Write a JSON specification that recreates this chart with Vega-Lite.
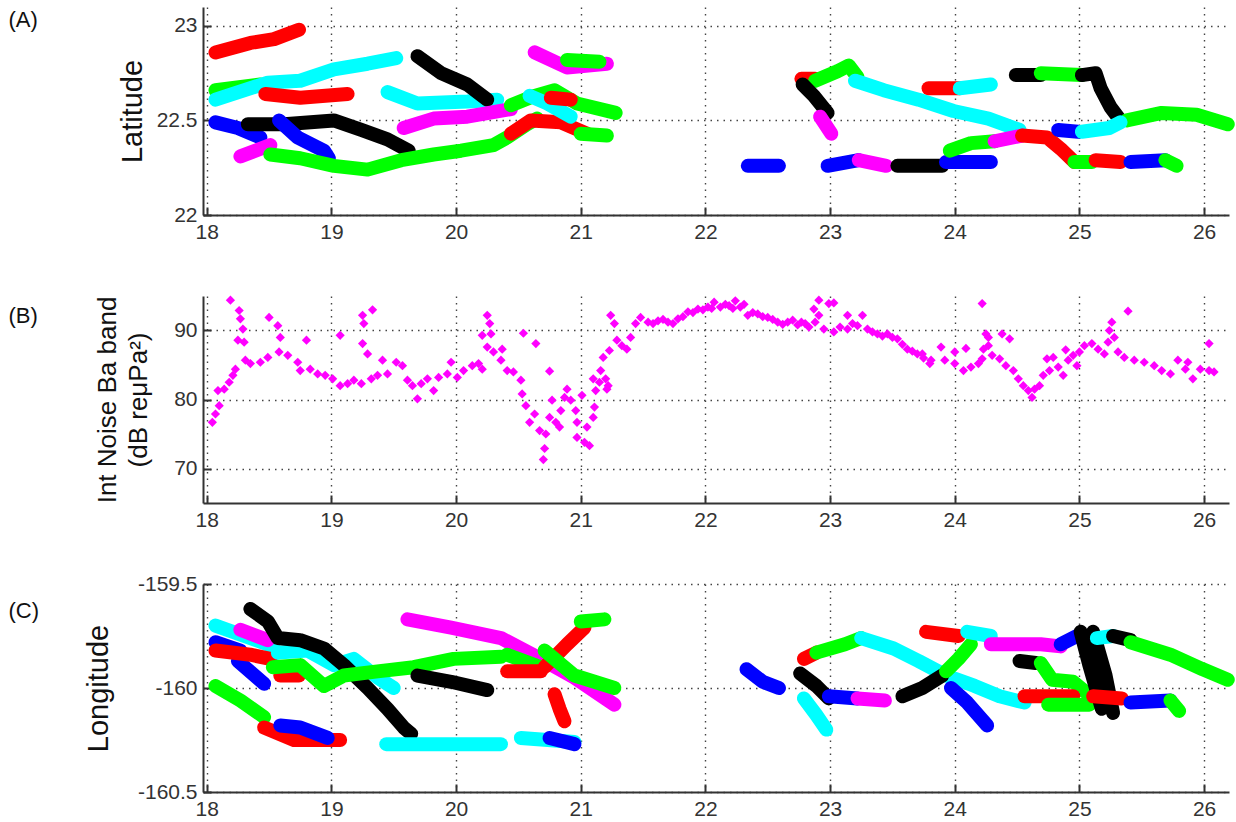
{
"$schema": "https://vega.github.io/schema/vega-lite/v6.json",
"background": "white",
"padding": {"left": 8, "top": 7, "right": 4, "bottom": 4},
"spacing": 81,
"bounds": "flush",
"config": {
  "view": {"stroke": null},
  "font": "Liberation Sans",
  "axis": {"domainColor": "#333", "domainWidth": 2, "tickColor": "#333", "tickWidth": 2, "tickSize": -8, "labelFont": "Liberation Sans", "labelFontSize": 21, "labelColor": "#333", "labelPadding": 14, "grid": true, "gridDash": [1.5, 5], "gridColor": "#444", "gridWidth": 1.4, "titleFont": "Liberation Sans", "titleFontWeight": "normal", "titleColor": "#111"}
},
"datasets": {
  "lat": [
    {"id":"A1","c":"r","t":18.07,"v":22.86},{"id":"A1","c":"r","t":18.35,"v":22.91},{"id":"A1","c":"r","t":18.54,"v":22.93},{"id":"A1","c":"r","t":18.74,"v":22.98},
    {"id":"A2","c":"g","t":18.07,"v":22.66},{"id":"A2","c":"g","t":18.43,"v":22.69},
    {"id":"A3","c":"c","t":18.07,"v":22.61},{"id":"A3","c":"c","t":18.49,"v":22.70},{"id":"A3","c":"c","t":18.75,"v":22.71},{"id":"A3","c":"c","t":19.02,"v":22.77},{"id":"A3","c":"c","t":19.29,"v":22.80},{"id":"A3","c":"c","t":19.52,"v":22.83},
    {"id":"A4","c":"r","t":18.47,"v":22.64},{"id":"A4","c":"r","t":18.75,"v":22.62},{"id":"A4","c":"r","t":19.13,"v":22.64},
    {"id":"A5","c":"b","t":18.07,"v":22.49},{"id":"A5","c":"b","t":18.25,"v":22.46},{"id":"A5","c":"b","t":18.43,"v":22.41},
    {"id":"A6","c":"k","t":18.33,"v":22.48},{"id":"A6","c":"k","t":18.62,"v":22.48},{"id":"A6","c":"k","t":19.02,"v":22.50},{"id":"A6","c":"k","t":19.24,"v":22.45},{"id":"A6","c":"k","t":19.45,"v":22.40},{"id":"A6","c":"k","t":19.62,"v":22.34},
    {"id":"A7","c":"b","t":18.58,"v":22.50},{"id":"A7","c":"b","t":18.73,"v":22.41},{"id":"A7","c":"b","t":18.94,"v":22.34},{"id":"A7","c":"b","t":18.98,"v":22.30},
    {"id":"A8","c":"m","t":18.27,"v":22.31},{"id":"A8","c":"m","t":18.51,"v":22.37},
    {"id":"A9","c":"g","t":18.51,"v":22.32},{"id":"A9","c":"g","t":18.75,"v":22.30},{"id":"A9","c":"g","t":19.02,"v":22.26},{"id":"A9","c":"g","t":19.29,"v":22.24},{"id":"A9","c":"g","t":19.56,"v":22.29},{"id":"A9","c":"g","t":19.82,"v":22.32},{"id":"A9","c":"g","t":20.04,"v":22.34},{"id":"A9","c":"g","t":20.30,"v":22.37},{"id":"A9","c":"g","t":20.41,"v":22.41},{"id":"A9","c":"g","t":20.57,"v":22.48},{"id":"A9","c":"g","t":20.65,"v":22.51},
    {"id":"A10","c":"c","t":19.45,"v":22.65},{"id":"A10","c":"c","t":19.69,"v":22.59},{"id":"A10","c":"c","t":20.09,"v":22.60},{"id":"A10","c":"c","t":20.33,"v":22.61},
    {"id":"A11","c":"k","t":19.69,"v":22.84},{"id":"A11","c":"k","t":19.88,"v":22.75},{"id":"A11","c":"k","t":20.09,"v":22.69},{"id":"A11","c":"k","t":20.25,"v":22.61},
    {"id":"A12","c":"m","t":19.58,"v":22.46},{"id":"A12","c":"m","t":19.82,"v":22.51},{"id":"A12","c":"m","t":20.09,"v":22.52},{"id":"A12","c":"m","t":20.44,"v":22.56},
    {"id":"A13","c":"r","t":20.44,"v":22.43},{"id":"A13","c":"r","t":20.60,"v":22.50},{"id":"A13","c":"r","t":20.84,"v":22.49},{"id":"A13","c":"r","t":21.05,"v":22.43},
    {"id":"A14","c":"g","t":21.00,"v":22.43},{"id":"A14","c":"g","t":21.21,"v":22.42},
    {"id":"A15","c":"g","t":20.44,"v":22.58},{"id":"A15","c":"g","t":20.63,"v":22.63},{"id":"A15","c":"g","t":20.79,"v":22.66},{"id":"A15","c":"g","t":20.97,"v":22.59},{"id":"A15","c":"g","t":21.28,"v":22.54},
    {"id":"A16","c":"c","t":20.59,"v":22.63},{"id":"A16","c":"c","t":20.73,"v":22.59},{"id":"A16","c":"c","t":20.92,"v":22.52},
    {"id":"A17","c":"r","t":20.76,"v":22.62},{"id":"A17","c":"r","t":20.92,"v":22.61},
    {"id":"A18","c":"m","t":20.63,"v":22.86},{"id":"A18","c":"m","t":20.89,"v":22.78},{"id":"A18","c":"m","t":21.21,"v":22.80},
    {"id":"A19","c":"g","t":20.89,"v":22.82},{"id":"A19","c":"g","t":21.15,"v":22.81},
    {"id":"A20","c":"b","t":22.34,"v":22.26},{"id":"A20","c":"b","t":22.59,"v":22.26},
    {"id":"A21","c":"b","t":22.98,"v":22.26},{"id":"A21","c":"b","t":23.23,"v":22.29},
    {"id":"A22","c":"m","t":23.23,"v":22.29},{"id":"A22","c":"m","t":23.45,"v":22.26},
    {"id":"A23","c":"r","t":22.77,"v":22.72},{"id":"A23","c":"r","t":22.88,"v":22.72},
    {"id":"A24","c":"g","t":22.88,"v":22.71},{"id":"A24","c":"g","t":23.06,"v":22.76},{"id":"A24","c":"g","t":23.15,"v":22.79},{"id":"A24","c":"g","t":23.22,"v":22.73},
    {"id":"A25","c":"k","t":22.78,"v":22.69},{"id":"A25","c":"k","t":22.87,"v":22.63},{"id":"A25","c":"k","t":22.98,"v":22.54},
    {"id":"A26","c":"m","t":22.92,"v":22.52},{"id":"A26","c":"m","t":23.01,"v":22.43},
    {"id":"A27","c":"c","t":23.20,"v":22.71},{"id":"A27","c":"c","t":23.43,"v":22.66},{"id":"A27","c":"c","t":23.71,"v":22.61},{"id":"A27","c":"c","t":23.99,"v":22.55},{"id":"A27","c":"c","t":24.27,"v":22.51},{"id":"A27","c":"c","t":24.52,"v":22.45},
    {"id":"A28","c":"r","t":23.79,"v":22.67},{"id":"A28","c":"r","t":24.04,"v":22.67},
    {"id":"A29","c":"c","t":24.04,"v":22.67},{"id":"A29","c":"c","t":24.29,"v":22.69},
    {"id":"A30","c":"k","t":23.54,"v":22.26},{"id":"A30","c":"k","t":23.90,"v":22.26},
    {"id":"A31","c":"b","t":23.93,"v":22.28},{"id":"A31","c":"b","t":24.29,"v":22.28},
    {"id":"A32","c":"g","t":23.96,"v":22.34},{"id":"A32","c":"g","t":24.13,"v":22.38},{"id":"A32","c":"g","t":24.32,"v":22.39},
    {"id":"A33","c":"m","t":24.32,"v":22.39},{"id":"A33","c":"m","t":24.54,"v":22.42},
    {"id":"A34","c":"r","t":24.54,"v":22.42},{"id":"A34","c":"r","t":24.74,"v":22.41},{"id":"A34","c":"r","t":24.85,"v":22.35},{"id":"A34","c":"r","t":24.96,"v":22.28},
    {"id":"A35","c":"g","t":24.96,"v":22.28},{"id":"A35","c":"g","t":25.10,"v":22.28},
    {"id":"A36","c":"r","t":25.13,"v":22.29},{"id":"A36","c":"r","t":25.33,"v":22.28},
    {"id":"A37","c":"b","t":25.41,"v":22.28},{"id":"A37","c":"b","t":25.69,"v":22.29},
    {"id":"A38","c":"g","t":25.69,"v":22.29},{"id":"A38","c":"g","t":25.78,"v":22.26},
    {"id":"A39","c":"k","t":24.49,"v":22.74},{"id":"A39","c":"k","t":24.69,"v":22.74},
    {"id":"A40","c":"g","t":24.69,"v":22.75},{"id":"A40","c":"g","t":25.02,"v":22.74},
    {"id":"A41","c":"k","t":25.02,"v":22.74},{"id":"A41","c":"k","t":25.13,"v":22.75},{"id":"A41","c":"k","t":25.17,"v":22.67},{"id":"A41","c":"k","t":25.25,"v":22.57},{"id":"A41","c":"k","t":25.33,"v":22.50},
    {"id":"A42","c":"g","t":25.38,"v":22.50},{"id":"A42","c":"g","t":25.66,"v":22.54},{"id":"A42","c":"g","t":25.94,"v":22.53},{"id":"A42","c":"g","t":26.19,"v":22.48},
    {"id":"A43","c":"b","t":24.83,"v":22.45},{"id":"A43","c":"b","t":24.99,"v":22.44},
    {"id":"A44","c":"c","t":25.02,"v":22.44},{"id":"A44","c":"c","t":25.24,"v":22.46},{"id":"A44","c":"c","t":25.33,"v":22.49}
  ],
  "lon": [
    {"id":"C1","c":"c","t":18.07,"v":-159.70},{"id":"C1","c":"c","t":18.49,"v":-159.79},{"id":"C1","c":"c","t":18.57,"v":-159.83},
    {"id":"C2","c":"m","t":18.27,"v":-159.72},{"id":"C2","c":"m","t":18.49,"v":-159.77},
    {"id":"C3","c":"b","t":18.07,"v":-159.78},{"id":"C3","c":"b","t":18.27,"v":-159.82},
    {"id":"C4","c":"b","t":18.25,"v":-159.87},{"id":"C4","c":"b","t":18.46,"v":-159.98},
    {"id":"C5","c":"r","t":18.07,"v":-159.82},{"id":"C5","c":"r","t":18.35,"v":-159.84},{"id":"C5","c":"r","t":18.51,"v":-159.86},
    {"id":"C6","c":"r","t":18.59,"v":-159.94},{"id":"C6","c":"r","t":18.74,"v":-159.94},
    {"id":"C8","c":"c","t":18.57,"v":-159.83},{"id":"C8","c":"c","t":18.81,"v":-159.82},{"id":"C8","c":"c","t":19.02,"v":-159.89},{"id":"C8","c":"c","t":19.18,"v":-159.86},{"id":"C8","c":"c","t":19.37,"v":-159.95},{"id":"C8","c":"c","t":19.50,"v":-160.00},
    {"id":"C7","c":"k","t":18.35,"v":-159.62},{"id":"C7","c":"k","t":18.49,"v":-159.68},{"id":"C7","c":"k","t":18.57,"v":-159.76},{"id":"C7","c":"k","t":18.75,"v":-159.77},{"id":"C7","c":"k","t":18.94,"v":-159.81},{"id":"C7","c":"k","t":19.10,"v":-159.89},{"id":"C7","c":"k","t":19.29,"v":-160.00},{"id":"C7","c":"k","t":19.45,"v":-160.10},{"id":"C7","c":"k","t":19.58,"v":-160.19},{"id":"C7","c":"k","t":19.64,"v":-160.22},
    {"id":"C9","c":"g","t":18.53,"v":-159.90},{"id":"C9","c":"g","t":18.75,"v":-159.89},{"id":"C9","c":"g","t":18.94,"v":-159.99},{"id":"C9","c":"g","t":19.10,"v":-159.94},{"id":"C9","c":"g","t":19.37,"v":-159.92},{"id":"C9","c":"g","t":19.66,"v":-159.90},{"id":"C9","c":"g","t":19.98,"v":-159.86},{"id":"C9","c":"g","t":20.36,"v":-159.85},
    {"id":"C10","c":"m","t":19.61,"v":-159.67},{"id":"C10","c":"m","t":19.96,"v":-159.71},{"id":"C10","c":"m","t":20.36,"v":-159.76},{"id":"C10","c":"m","t":20.68,"v":-159.86},{"id":"C10","c":"m","t":20.95,"v":-159.95},{"id":"C10","c":"m","t":21.27,"v":-160.08},
    {"id":"C11","c":"k","t":19.69,"v":-159.94},{"id":"C11","c":"k","t":19.96,"v":-159.97},{"id":"C11","c":"k","t":20.25,"v":-160.01},
    {"id":"C12","c":"g","t":18.07,"v":-159.99},{"id":"C12","c":"g","t":18.27,"v":-160.06},{"id":"C12","c":"g","t":18.46,"v":-160.14},
    {"id":"C13","c":"r","t":18.46,"v":-160.19},{"id":"C13","c":"r","t":18.70,"v":-160.25},{"id":"C13","c":"r","t":19.07,"v":-160.25},
    {"id":"C14","c":"b","t":18.59,"v":-160.18},{"id":"C14","c":"b","t":18.75,"v":-160.19},{"id":"C14","c":"b","t":18.97,"v":-160.24},
    {"id":"C15","c":"c","t":19.44,"v":-160.27},{"id":"C15","c":"c","t":20.36,"v":-160.27},
    {"id":"C16","c":"g","t":20.41,"v":-159.84},{"id":"C16","c":"g","t":20.68,"v":-159.90},
    {"id":"C17","c":"r","t":20.41,"v":-159.92},{"id":"C17","c":"r","t":20.68,"v":-159.92},
    {"id":"C18","c":"r","t":20.71,"v":-159.90},{"id":"C18","c":"r","t":20.89,"v":-159.79},{"id":"C18","c":"r","t":21.03,"v":-159.71},
    {"id":"C19","c":"g","t":21.00,"v":-159.68},{"id":"C19","c":"g","t":21.19,"v":-159.67},
    {"id":"C20","c":"g","t":20.71,"v":-159.82},{"id":"C20","c":"g","t":20.95,"v":-159.94},{"id":"C20","c":"g","t":21.27,"v":-160.00},
    {"id":"C21","c":"r","t":20.79,"v":-160.03},{"id":"C21","c":"r","t":20.83,"v":-160.10},{"id":"C21","c":"r","t":20.87,"v":-160.16},
    {"id":"C22","c":"c","t":20.52,"v":-160.24},{"id":"C22","c":"c","t":20.95,"v":-160.26},
    {"id":"C22b","c":"b","t":20.75,"v":-160.24},{"id":"C22b","c":"b","t":20.95,"v":-160.27},
    {"id":"C23","c":"b","t":22.33,"v":-159.91},{"id":"C23","c":"b","t":22.46,"v":-159.97},{"id":"C23","c":"b","t":22.59,"v":-160.00},
    {"id":"C24","c":"r","t":22.79,"v":-159.86},{"id":"C24","c":"r","t":22.89,"v":-159.83},
    {"id":"C25","c":"g","t":22.89,"v":-159.83},{"id":"C25","c":"g","t":23.12,"v":-159.79},{"id":"C25","c":"g","t":23.25,"v":-159.76},
    {"id":"C26","c":"c","t":23.25,"v":-159.76},{"id":"C26","c":"c","t":23.51,"v":-159.81},{"id":"C26","c":"c","t":23.71,"v":-159.87},{"id":"C26","c":"c","t":23.93,"v":-159.94},{"id":"C26","c":"c","t":24.16,"v":-159.99},{"id":"C26","c":"c","t":24.36,"v":-160.04},{"id":"C26","c":"c","t":24.56,"v":-160.07},
    {"id":"C27","c":"k","t":22.76,"v":-159.93},{"id":"C27","c":"k","t":22.89,"v":-159.99},{"id":"C27","c":"k","t":22.99,"v":-160.05},
    {"id":"C28","c":"b","t":22.99,"v":-160.04},{"id":"C28","c":"b","t":23.22,"v":-160.05},
    {"id":"C29","c":"m","t":23.22,"v":-160.05},{"id":"C29","c":"m","t":23.44,"v":-160.06},
    {"id":"C30","c":"c","t":22.79,"v":-160.05},{"id":"C30","c":"c","t":22.89,"v":-160.13},{"id":"C30","c":"c","t":22.97,"v":-160.20},
    {"id":"C31","c":"k","t":23.58,"v":-160.04},{"id":"C31","c":"k","t":23.74,"v":-160.00},{"id":"C31","c":"k","t":23.90,"v":-159.94},
    {"id":"C32","c":"g","t":23.93,"v":-159.92},{"id":"C32","c":"g","t":24.03,"v":-159.86},{"id":"C32","c":"g","t":24.13,"v":-159.79},
    {"id":"C33","c":"r","t":23.77,"v":-159.73},{"id":"C33","c":"r","t":24.03,"v":-159.75},
    {"id":"C34","c":"c","t":24.10,"v":-159.73},{"id":"C34","c":"c","t":24.29,"v":-159.75},
    {"id":"C35","c":"b","t":23.97,"v":-160.00},{"id":"C35","c":"b","t":24.10,"v":-160.07},{"id":"C35","c":"b","t":24.26,"v":-160.18},
    {"id":"C36","c":"m","t":24.29,"v":-159.79},{"id":"C36","c":"m","t":24.69,"v":-159.79},{"id":"C36","c":"m","t":24.85,"v":-159.80},
    {"id":"C37","c":"b","t":24.85,"v":-159.79},{"id":"C37","c":"b","t":24.98,"v":-159.75},
    {"id":"C43","c":"k","t":24.52,"v":-159.87},{"id":"C43","c":"k","t":24.65,"v":-159.88},
    {"id":"C44","c":"g","t":24.69,"v":-159.88},{"id":"C44","c":"g","t":24.78,"v":-159.96},{"id":"C44","c":"g","t":24.95,"v":-159.97},{"id":"C44","c":"g","t":25.05,"v":-160.02},
    {"id":"C45","c":"r","t":24.56,"v":-160.04},{"id":"C45","c":"r","t":24.95,"v":-160.04},
    {"id":"C46","c":"g","t":24.75,"v":-160.08},{"id":"C46","c":"g","t":25.08,"v":-160.08},
    {"id":"C38","c":"k","t":25.01,"v":-159.73},{"id":"C38","c":"k","t":25.08,"v":-159.89},{"id":"C38","c":"k","t":25.18,"v":-160.10},
    {"id":"C39","c":"k","t":25.11,"v":-159.73},{"id":"C39","c":"k","t":25.21,"v":-159.94},{"id":"C39","c":"k","t":25.27,"v":-160.12},
    {"id":"C40","c":"c","t":25.14,"v":-159.76},{"id":"C40","c":"c","t":25.27,"v":-159.75},
    {"id":"C41","c":"k","t":25.27,"v":-159.75},{"id":"C41","c":"k","t":25.41,"v":-159.77},
    {"id":"C42","c":"g","t":25.41,"v":-159.78},{"id":"C42","c":"g","t":25.73,"v":-159.84},{"id":"C42","c":"g","t":25.99,"v":-159.91},{"id":"C42","c":"g","t":26.19,"v":-159.96},
    {"id":"C47","c":"r","t":25.11,"v":-160.04},{"id":"C47","c":"r","t":25.34,"v":-160.05},
    {"id":"C48","c":"b","t":25.41,"v":-160.07},{"id":"C48","c":"b","t":25.73,"v":-160.06},
    {"id":"C49","c":"g","t":25.73,"v":-160.06},{"id":"C49","c":"g","t":25.80,"v":-160.11}
  ],
  "noise": [
    {"t":18.045,"v":76.7},{"t":18.07,"v":77.9},{"t":18.10,"v":79.1},{"t":18.09,"v":81.3},{"t":18.14,"v":81.5},{"t":18.18,"v":82.5},{"t":18.21,"v":83.5},{"t":18.23,"v":84.4},{"t":18.19,"v":94.4},{"t":18.26,"v":92.9},{"t":18.27,"v":91.7},{"t":18.29,"v":90.2},{"t":18.25,"v":88.6},{"t":18.30,"v":88.3},{"t":18.31,"v":85.7},{"t":18.35,"v":85.2},{"t":18.43,"v":85.4},{"t":18.50,"v":91.9},{"t":18.57,"v":90.7},{"t":18.59,"v":89.0},{"t":18.49,"v":86.1},{"t":18.58,"v":86.9},{"t":18.65,"v":86.4},{"t":18.73,"v":85.4},{"t":18.75,"v":84.2},{"t":18.80,"v":88.6},{"t":18.83,"v":84.4},{"t":18.89,"v":83.7},{"t":18.95,"v":83.5},{"t":19.01,"v":83.0},{"t":19.07,"v":82.0},{"t":19.13,"v":82.3},{"t":19.18,"v":82.8},{"t":19.24,"v":82.3},{"t":19.07,"v":89.3},{"t":19.25,"v":92.2},{"t":19.26,"v":91.0},{"t":19.33,"v":93.0},{"t":19.25,"v":88.1},{"t":19.29,"v":86.6},{"t":19.32,"v":83.0},{"t":19.37,"v":83.5},{"t":19.41,"v":85.7},{"t":19.45,"v":83.7},{"t":19.52,"v":85.4},{"t":19.57,"v":84.9},{"t":19.61,"v":82.8},{"t":19.65,"v":82.0},{"t":19.69,"v":80.1},{"t":19.72,"v":82.3},{"t":19.77,"v":83.0},{"t":19.82,"v":81.3},{"t":19.86,"v":83.2},{"t":19.93,"v":83.7},{"t":19.96,"v":85.4},{"t":20.01,"v":83.2},{"t":20.06,"v":84.2},{"t":20.13,"v":84.9},{"t":20.18,"v":85.2},{"t":20.21,"v":84.4},{"t":20.21,"v":89.3},{"t":20.25,"v":92.2},{"t":20.27,"v":91.0},{"t":20.28,"v":89.5},{"t":20.25,"v":87.6},{"t":20.30,"v":86.9},{"t":20.37,"v":87.3},{"t":20.36,"v":85.7},{"t":20.41,"v":84.2},{"t":20.46,"v":84.0},{"t":20.52,"v":82.8},{"t":20.53,"v":80.8},{"t":20.54,"v":89.6},{"t":20.56,"v":79.1},{"t":20.59,"v":76.7},{"t":20.63,"v":77.9},{"t":20.64,"v":88.1},{"t":20.67,"v":75.5},{"t":20.71,"v":72.9},{"t":20.70,"v":71.3},{"t":20.72,"v":75.0},{"t":20.75,"v":77.4},{"t":20.75,"v":84.1},{"t":20.77,"v":79.9},{"t":20.80,"v":76.7},{"t":20.83,"v":76.0},{"t":20.84,"v":78.4},{"t":20.87,"v":80.3},{"t":20.89,"v":81.5},{"t":20.92,"v":79.9},{"t":20.96,"v":78.4},{"t":20.97,"v":76.7},{"t":20.97,"v":74.5},{"t":21.01,"v":80.6},{"t":21.03,"v":73.8},{"t":21.05,"v":76.0},{"t":21.07,"v":73.3},{"t":21.10,"v":77.4},{"t":21.11,"v":78.9},{"t":21.12,"v":81.3},{"t":21.10,"v":83.0},{"t":21.15,"v":82.5},{"t":21.16,"v":84.2},{"t":21.18,"v":86.1},{"t":21.22,"v":82.0},{"t":21.23,"v":87.1},{"t":21.24,"v":92.2},{"t":21.27,"v":91.0},{"t":21.29,"v":88.6},
    {"t":21.20,"v":83.0},{"t":21.21,"v":81.5},{"t":21.33,"v":87.8},{"t":21.37,"v":87.3},{"t":21.40,"v":89.0},{"t":21.44,"v":91.0},{"t":21.48,"v":91.9},{"t":21.54,"v":91.2},{"t":21.58,"v":91.0},{"t":21.62,"v":91.4},{"t":21.66,"v":91.6},{"t":21.70,"v":91.2},{"t":21.74,"v":91.0},{"t":21.78,"v":91.7},{"t":21.82,"v":92.0},{"t":21.86,"v":92.7},{"t":21.90,"v":92.6},{"t":21.94,"v":93.1},{"t":21.98,"v":93.0},{"t":22.02,"v":93.4},{"t":22.05,"v":93.2},{"t":22.07,"v":94.1},{"t":22.12,"v":93.4},{"t":22.16,"v":93.8},{"t":22.19,"v":93.6},{"t":22.22,"v":93.2},{"t":22.24,"v":94.3},{"t":22.28,"v":93.4},{"t":22.31,"v":93.8},{"t":22.34,"v":92.2},{"t":22.38,"v":92.6},{"t":22.42,"v":92.4},{"t":22.46,"v":92.0},{"t":22.50,"v":91.9},{"t":22.54,"v":91.6},{"t":22.58,"v":91.2},{"t":22.62,"v":90.9},{"t":22.66,"v":91.2},{"t":22.70,"v":91.5},{"t":22.74,"v":90.8},{"t":22.77,"v":91.2},{"t":22.80,"v":91.0},{"t":22.83,"v":90.5},{"t":22.87,"v":93.1},{"t":22.91,"v":94.4},{"t":22.91,"v":92.2},{"t":22.88,"v":91.2},{"t":22.99,"v":93.9},{"t":23.03,"v":94.0},{"t":22.95,"v":90.2},{"t":23.03,"v":89.8},{"t":23.08,"v":90.5},{"t":23.14,"v":92.2},{"t":23.14,"v":90.2},{"t":23.18,"v":91.0},{"t":23.22,"v":90.7},{"t":23.26,"v":92.2},{"t":23.30,"v":90.2},{"t":23.34,"v":89.8},{"t":23.38,"v":89.5},{"t":23.42,"v":89.2},{"t":23.46,"v":89.5},{"t":23.50,"v":89.0},{"t":23.54,"v":88.8},{"t":23.58,"v":88.0},{"t":23.62,"v":87.3},{"t":23.66,"v":87.0},{"t":23.70,"v":86.6},{"t":23.75,"v":86.0},{"t":23.80,"v":85.2},
    {"t":23.74,"v":86.6},{"t":23.81,"v":85.7},{"t":23.89,"v":87.6},{"t":23.92,"v":85.7},{"t":24.00,"v":86.9},{"t":24.00,"v":85.2},{"t":24.07,"v":84.2},{"t":24.09,"v":87.4},{"t":24.13,"v":84.7},{"t":24.19,"v":85.2},{"t":24.22,"v":93.9},{"t":24.22,"v":85.9},{"t":24.23,"v":87.3},{"t":24.25,"v":89.5},{"t":24.27,"v":89.0},{"t":24.27,"v":87.8},{"t":24.30,"v":86.4},{"t":24.36,"v":85.9},{"t":24.38,"v":89.5},{"t":24.41,"v":84.9},{"t":24.44,"v":88.8},{"t":24.47,"v":84.2},{"t":24.51,"v":83.0},{"t":24.55,"v":82.0},{"t":24.59,"v":81.3},{"t":24.62,"v":80.3},{"t":24.64,"v":81.5},{"t":24.68,"v":82.0},{"t":24.71,"v":83.5},{"t":24.74,"v":85.9},{"t":24.76,"v":84.2},{"t":24.79,"v":86.1},{"t":24.83,"v":84.7},{"t":24.87,"v":83.5},{"t":24.89,"v":87.2},{"t":24.91,"v":85.7},{"t":24.95,"v":86.4},{"t":24.98,"v":84.9},{"t":25.00,"v":86.9},{"t":25.04,"v":87.8},{"t":25.10,"v":88.1},{"t":25.15,"v":87.3},{"t":25.20,"v":86.6},{"t":25.23,"v":88.3},{"t":25.24,"v":90.0},{"t":25.26,"v":91.2},{"t":25.28,"v":89.0},{"t":25.31,"v":86.9},{"t":25.36,"v":86.1},{"t":25.39,"v":92.8},{"t":25.44,"v":85.7},{"t":25.52,"v":85.4},{"t":25.60,"v":84.9},{"t":25.66,"v":84.2},{"t":25.73,"v":83.7},{"t":25.79,"v":85.7},{"t":25.85,"v":84.4},{"t":25.87,"v":85.4},{"t":25.91,"v":83.0},{"t":25.97,"v":84.4},{"t":26.04,"v":88.1},{"t":26.04,"v":84.2},{"t":26.08,"v":84.0}
  ]
},
"vconcat": [
  {
    "width": 1026, "height": 208,
    "encoding": {
      "x": {"field": "t", "type": "quantitative", "scale": {"domain": [17.97, 26.2], "nice": false, "zero": false}, "axis": {"values": [18,19,20,21,22,23,24,25,26], "title": null}},
      "y": {"field": "v", "type": "quantitative", "scale": {"domain": [22, 23.1], "nice": false, "zero": false}, "axis": {"values": [22, 22.5, 23], "labelExpr": "'' + datum.value", "title": "Latitude", "titleFontSize": 29, "titlePadding": 9}}
    },
    "layer": [
      {"data": {"name": "lat"}, "mark": {"type": "line", "strokeWidth": 14, "strokeCap": "round", "strokeJoin": "round"},
       "encoding": {"color": {"field": "c", "type": "nominal", "scale": {"domain": ["r","g","b","c","m","k"], "range": ["#ff0000","#00ff00","#0000ff","#00ffff","#ff00ff","#000000"]}, "legend": null}, "detail": {"field": "id"}}},
      {"data": {"values": [{"t": 16.41, "v": 23.03, "s": "(A)"}]}, "mark": {"type": "text", "align": "left", "baseline": "middle", "fontSize": 22, "font": "Liberation Sans", "color": "#111"}, "encoding": {"text": {"field": "s"}}}
    ]
  },
  {
    "width": 1026, "height": 207,
    "encoding": {
      "x": {"field": "t", "type": "quantitative", "scale": {"domain": [17.97, 26.2], "nice": false, "zero": false}, "axis": {"values": [18,19,20,21,22,23,24,25,26], "title": null}},
      "y": {"field": "v", "type": "quantitative", "scale": {"domain": [65, 95], "nice": false, "zero": false}, "axis": {"values": [70, 80, 90], "title": ["Int Noise Ba band", "(dB reμPa²)"], "titleFontSize": 26, "titleLineHeight": 31, "titlePadding": 22}}
    },
    "layer": [
      {"data": {"name": "noise"}, "mark": {"type": "point", "shape": "diamond", "filled": true, "size": 85, "color": "#ff00ff", "opacity": 1}},
      {"data": {"values": [{"t": 16.41, "v": 92.17, "s": "(B)"}]}, "mark": {"type": "text", "align": "left", "baseline": "middle", "fontSize": 22, "font": "Liberation Sans", "color": "#111"}, "encoding": {"text": {"field": "s"}}}
    ]
  },
  {
    "width": 1026, "height": 208,
    "encoding": {
      "x": {"field": "t", "type": "quantitative", "scale": {"domain": [17.97, 26.2], "nice": false, "zero": false}, "axis": {"values": [18,19,20,21,22,23,24,25,26], "title": null}},
      "y": {"field": "v", "type": "quantitative", "scale": {"domain": [-160.5, -159.5], "nice": false, "zero": false}, "axis": {"values": [-160.5, -160, -159.5], "labelExpr": "'' + datum.value", "title": "Longitude", "titleFontSize": 29, "titlePadding": 24}}
    },
    "layer": [
      {"data": {"name": "lon"}, "mark": {"type": "line", "strokeWidth": 14, "strokeCap": "round", "strokeJoin": "round"},
       "encoding": {"color": {"field": "c", "type": "nominal", "scale": {"domain": ["r","g","b","c","m","k"], "range": ["#ff0000","#00ff00","#0000ff","#00ffff","#ff00ff","#000000"]}, "legend": null}, "detail": {"field": "id"}}},
      {"data": {"values": [{"t": 16.41, "v": -159.631, "s": "(C)"}]}, "mark": {"type": "text", "align": "left", "baseline": "middle", "fontSize": 22, "font": "Liberation Sans", "color": "#111"}, "encoding": {"text": {"field": "s"}}}
    ]
  }
]
}
